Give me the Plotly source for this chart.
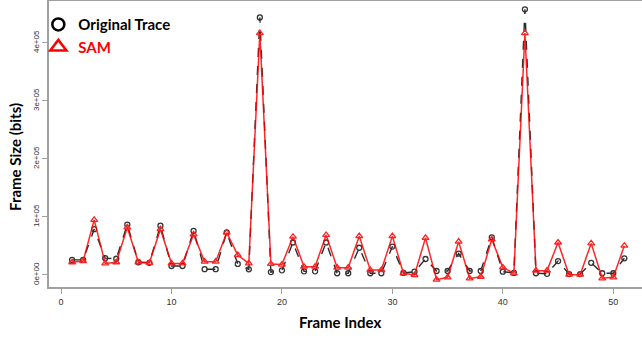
import plotly.graph_objects as go

frames = list(range(1, 52))
original = [26000, 26000, 79000, 29000, 28000, 87000, 22000, 21000, 85000, 15500,
            15500, 76000, 10000, 10000, 73500, 19000, 9800, 444000, 5000, 8000,
            56000, 6300, 6300, 56000, 3000, 3000, 47000, 3000, 3000, 49000,
            3500, 5700, 27600, 6900, 6900, 37000, 6900, 6900, 65000, 5700,
            3500, 458000, 3000, 2000, 24000, 1500, 1500, 21000, 3000, 3000, 28800]
sam = [22000, 24000, 95000, 20000, 22000, 82000, 22000, 21000, 79000, 20000,
       20000, 70000, 23000, 23000, 73000, 34500, 20000, 417000, 19000, 18000,
       66000, 14300, 14300, 69000, 12600, 12600, 67000, 8600, 8600, 67000,
       2900, 0, 64000, -8000, -4000, 57500, -6000, -3000, 61500, 13000,
       2900, 417000, 7500, 7500, 56000, 500, 500, 54500, -5700, -4000, 50500]

x_ticks = [0, 10, 20, 30, 40, 50]
y_ticks = [0, 100000, 200000, 300000, 400000]
y_tick_labels = ["0e+00", "1e+05", "2e+05", "3e+05", "4e+05"]

fig = go.Figure()
fig.add_trace(go.Scatter(
    x=frames, y=original, mode="lines+markers", showlegend=False,
    line=dict(color="#2a2a2a", width=1.4, dash="dash"),
    marker=dict(symbol="circle-open", size=5, color="#333333", line=dict(width=1.3))))
fig.add_trace(go.Scatter(
    x=frames, y=sam, mode="lines+markers", showlegend=False,
    line=dict(color="rgba(255,0,0,0.85)", width=1.5),
    marker=dict(symbol="triangle-up-open", size=6, color="#ff2020", line=dict(width=1.3))))

# legend entries
fig.add_trace(go.Scatter(
    x=[None], y=[None], mode="markers", name="Original Trace",
    marker=dict(symbol="circle-open", size=12, color="black", line=dict(width=2.5))))
fig.add_trace(go.Scatter(
    x=[None], y=[None], mode="markers", name="<span style='color:#ff0000'>SAM</span>",
    marker=dict(symbol="triangle-up-open", size=14, color="#ff0000", line=dict(width=2.5))))

font_title = "Lato, 'Open Sans', sans-serif"

fig.update_layout(
    width=642, height=339,
    margin=dict(l=49, r=0, t=1, b=52),
    paper_bgcolor="white", plot_bgcolor="white",
    showlegend=True,
    legend=dict(x=-0.018, y=0.975, xanchor="left", yanchor="top",
                bgcolor="rgba(0,0,0,0)", tracegroupgap=0,
                font=dict(family=font_title, size=15, color="black", weight="bold"),
                itemsizing="trace"),
    xaxis=dict(range=[-1.09, 52.6], tickvals=x_ticks, showgrid=False, zeroline=False,
               showline=True, linecolor="#a0a0a0", linewidth=1.5, mirror=True,
               ticks="outside", ticklen=5, tickcolor="#a0a0a0",
               tickfont=dict(family="Liberation Sans, Arial", size=9, color="#333333")),
    yaxis=dict(range=[-20700, 472400], tickvals=y_ticks, ticktext=y_tick_labels,
               showgrid=False, zeroline=False, showline=True, linecolor="#a0a0a0",
               linewidth=1.5, ticks="outside", ticklen=5, tickcolor="#a0a0a0",
               tickangle=-90,
               tickfont=dict(family="Liberation Sans, Arial", size=8, color="#333333")),
    annotations=[
        dict(text="<b>Frame Index</b>", xref="paper", yref="paper", x=(340 - 49) / 593,
             y=-(322 - 287) / 286, xanchor="center", yanchor="middle", showarrow=False,
             font=dict(family=font_title, size=15, color="black")),
        dict(text="<b>Frame Size (bits)</b>", xref="paper", yref="paper",
             x=-(49 - 15) / 593, y=(287 - 157) / 286, xanchor="center", yanchor="middle",
             textangle=-90, showarrow=False,
             font=dict(family=font_title, size=15, color="black")),
    ],
)

fig.write_html("out.html")
